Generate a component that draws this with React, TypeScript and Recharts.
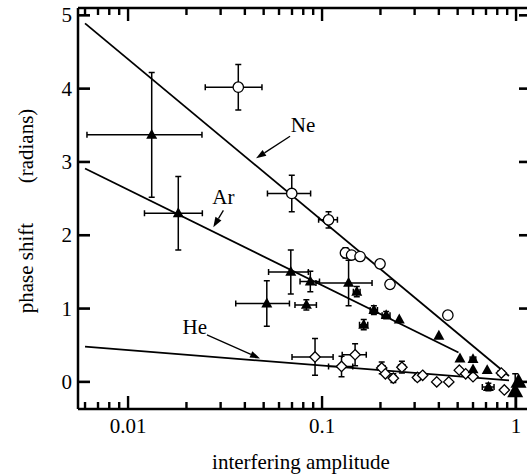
import {
  ComposedChart,
  Line,
  ReferenceDot,
  ReferenceLine,
  Scatter,
  XAxis,
  YAxis,
} from 'recharts';

const X_DOMAIN = [0.00552, 1.18];
const Y_DOMAIN = [-0.37, 5.1];
const X_MAJOR = [0.01, 0.1, 1];
const X_LABELS = ['0.01', '0.1', '1'];
const X_MINOR = [
  0.006, 0.007, 0.008, 0.009, 0.02, 0.03, 0.04, 0.05, 0.06, 0.07, 0.08, 0.09,
  0.2, 0.3, 0.4, 0.5, 0.6, 0.7, 0.8, 0.9,
];
const X_TICKS = [...X_MAJOR, ...X_MINOR];
const Y_TICKS = [0, 1, 2, 3, 4, 5];

// [amplitude, phase, x error, y error]
type Row = [number, number, number | [number, number], number];

const NE: Row[] = [
  [0.037, 4.02, 0.012, 0.31],
  [0.0698, 2.57, 0.0175, 0.25],
  [0.108, 2.21, 0.012, 0.11],
  [0.132, 1.76, 0.006, 0.07],
  [0.142, 1.73, 0, 0],
  [0.157, 1.71, 0, 0],
  [0.199, 1.61, 0, 0.05],
  [0.224, 1.33, 0, 0],
  [0.445, 0.91, 0, 0],
];

const AR: Row[] = [
  [0.01324, 3.37, [0.0071, 0.0108], 0.85],
  [0.01815, 2.3, 0.006, 0.5],
  [0.0519, 1.07, 0.016, 0.31],
  [0.069, 1.5, 0.016, 0.3],
  [0.087, 1.37, 0.01, 0.14],
  [0.083, 1.05, 0.0105, 0.07],
  [0.137, 1.35, 0.044, 0.31],
  [0.151, 1.23, 0.006, 0.07],
  [0.164, 0.78, 0.008, 0.07],
  [0.185, 0.98, 0.008, 0.06],
  [0.214, 0.91, 0.01, 0.05],
  [0.25, 0.85, 0, 0],
  [0.4, 0.63, 0, 0],
  [0.514, 0.32, 0, 0],
  [0.6, 0.31, 0.02, 0],
  [0.6, 0.17, 0, 0],
  [0.71, 0.16, 0, 0],
  [0.72, -0.07, 0.05, 0.05],
  [1.03, 0.0, 0, 0],
  [0.99, -0.13, 0, 0.24],
];
const AR_BIG = [18, 19];

const HE: Row[] = [
  [0.092, 0.34, 0.022, 0.25],
  [0.126, 0.21, 0.018, 0.14],
  [0.148, 0.37, 0.021, 0.15],
  [0.203, 0.19, 0.008, 0.08],
  [0.212, 0.11, 0, 0],
  [0.233, 0.05, 0.008, 0.06],
  [0.258, 0.2, 0.01, 0.08],
  [0.31, 0.06, 0.01, 0.04],
  [0.33, 0.09, 0, 0],
  [0.39, 0.0, 0, 0],
  [0.45, 0.0, 0, 0],
  [0.51, 0.16, 0, 0],
  [0.55, 0.11, 0, 0],
  [0.6, 0.07, 0, 0],
  [0.84, 0.12, 0.03, 0],
  [0.87, -0.11, 0, 0],
];

// fitted lines, end points
const NE_FIT = [
  { x: 0.006, y: 4.89 },
  { x: 0.92, y: 0.08 },
];
const AR_FIT = [
  { x: 0.006, y: 2.91 },
  { x: 0.505, y: 0.4 },
];
const HE_FIT = [
  { x: 0.006, y: 0.48 },
  { x: 0.92, y: 0.02 },
];

// gas labels and their arrows: [label x, label y, tail x, tail y, tip x, tip y]
const LABELS: [string, number, number, number, number, number, number][] = [
  ['Ne', 0.0798, 3.5, 0.0684, 3.35, 0.0457, 3.05],
  ['Ar', 0.031, 2.52, 0.031, 2.34, 0.0275, 2.11],
  ['He', 0.0221, 0.746, 0.0255, 0.64, 0.0479, 0.32],
];

const toPoints = (rows: Row[]) => rows.map(([x, y]) => ({ x, y }));

// error bar segments built from the rows
const toBars = (rows: Row[]) => {
  const out: { x: number; y: number }[][] = [];
  rows.forEach(([x, y, ex, ey]) => {
    const [lo, hi] = Array.isArray(ex) ? ex : [ex, ex];
    if (lo > 0 || hi > 0) out.push([{ x: x - lo, y }, { x: x + hi, y }]);
    if (ey > 0) out.push([{ x, y: y - ey }, { x, y: y + ey }]);
  });
  return out;
};
const BARS = [...toBars(HE), ...toBars(AR), ...toBars(NE)];

const FONT = 'Liberation Serif';
const INK = '#000';
const txt = { fontFamily: FONT, fontSize: 21, fill: INK };

const tickLen = (v: number) => (X_MAJOR.includes(v) ? 13 : 7);

const bottomTick = (p: any) => {
  const i = X_MAJOR.indexOf(p.payload.value);
  const len = tickLen(p.payload.value);
  return (
    <g>
      <rect x={p.x - 1.2} y={p.y - len} width={2.4} height={len} fill={INK} />
      {i >= 0 && (
        <text x={p.x} y={p.y + 24} textAnchor="middle" style={txt}>
          {X_LABELS[i]}
        </text>
      )}
    </g>
  );
};

const topTick = (p: any) => (
  <rect x={p.x - 1.2} y={p.y} width={2.4} height={tickLen(p.payload.value)} fill={INK} />
);

const leftTick = (p: any) => (
  <g>
    <rect x={p.x} y={p.y - 1.3} width={12} height={2.6} fill={INK} />
    <text x={p.x - 6} y={p.y + 7} textAnchor="end" style={txt}>
      {p.payload.value}
    </text>
  </g>
);

const rightTick = (p: any) => (
  <rect x={p.x - 11} y={p.y - 1.3} width={11} height={2.6} fill={INK} />
);

const Titles = () => (
  <g>
    <text x={301} y={469} textAnchor="middle" style={txt}>
      interfering amplitude
    </text>
    <text transform="rotate(-90)" x={-268} y={33} textAnchor="middle" style={txt}>
      phase shift
    </text>
    <text transform="rotate(-90)" x={-146} y={33} textAnchor="middle" style={txt}>
      (radians)
    </text>
  </g>
);

const circle = (p: any) => (
  <circle cx={p.cx} cy={p.cy} r={5.2} fill="#fff" stroke={INK} strokeWidth={1.3} />
);

const diamond = (p: any) => {
  const { cx, cy } = p;
  const s = 5.2;
  return (
    <polygon
      points={`${cx},${cy - s} ${cx + s},${cy} ${cx},${cy + s} ${cx - s},${cy}`}
      fill="#fff"
      stroke={INK}
      strokeWidth={1.3}
    />
  );
};

const triangle = (p: any) => {
  const { cx, cy, index } = p;
  const w = AR_BIG.includes(index) ? 16 : 11;
  const h = w * 0.9;
  return (
    <polygon
      points={`${cx},${cy - h * 0.6} ${cx + w / 2},${cy + h * 0.4} ${cx - w / 2},${cy + h * 0.4}`}
      fill={INK}
    />
  );
};

const errShape = (p: any) => {
  const { x1, y1, x2, y2 } = p;
  const c = 3;
  const horiz = Math.abs(x2 - x1) > Math.abs(y2 - y1);
  const caps = horiz
    ? `M${x1},${y1 - c}V${y1 + c}M${x2},${y2 - c}V${y2 + c}`
    : `M${x1 - c},${y1}H${x1 + c}M${x2 - c},${y2}H${x2 + c}`;
  return (
    <path d={`M${x1},${y1}L${x2},${y2}${caps}`} stroke={INK} strokeWidth={1.5} fill="none" />
  );
};

const arrow = (p: any) => {
  const { x1, y1, x2, y2 } = p;
  const a = Math.atan2(y2 - y1, x2 - x1);
  const len = 10;
  const half = 3.5;
  const bx = x2 - len * Math.cos(a);
  const by = y2 - len * Math.sin(a);
  const px = -Math.sin(a) * half;
  const py = Math.cos(a) * half;
  return (
    <g>
      <line x1={x1} y1={y1} x2={bx} y2={by} stroke={INK} strokeWidth={1.3} />
      <polygon points={`${x2},${y2} ${bx + px},${by + py} ${bx - px},${by - py}`} fill={INK} />
    </g>
  );
};

const fitLine = (data: { x: number; y: number }[], key: string) => (
  <Line
    key={key}
    xAxisId="top"
    yAxisId="right"
    data={data}
    dataKey="y"
    type="linear"
    stroke={INK}
    strokeWidth={1.8}
    dot={false}
    activeDot={false}
    isAnimationActive={false}
  />
);

export default function App() {
  return (
    <div
      style={{
        position: 'absolute',
        left: 0,
        top: 0,
        width: 527,
        height: 476,
        overflow: 'hidden',
        background: '#fff',
      }}
    >
      <ComposedChart width={545} height={476} margin={{ top: 7, right: 14, bottom: 0, left: 0 }}>
        <XAxis
          dataKey="x"
          type="number"
          scale="log"
          domain={X_DOMAIN}
          allowDataOverflow
          ticks={X_TICKS}
          interval={0}
          tick={bottomTick}
          tickLine={false}
          tickSize={0}
          tickMargin={0}
          height={67}
          axisLine={{ stroke: INK, strokeWidth: 2.5 }}
          label={<Titles />}
        />
        <XAxis
          xAxisId="top"
          orientation="top"
          dataKey="x"
          type="number"
          scale="log"
          domain={X_DOMAIN}
          allowDataOverflow
          ticks={X_TICKS}
          interval={0}
          tick={topTick}
          tickLine={false}
          tickSize={0}
          tickMargin={0}
          height={1}
          axisLine={{ stroke: INK, strokeWidth: 2.5 }}
        />
        <YAxis
          dataKey="y"
          type="number"
          domain={Y_DOMAIN}
          allowDataOverflow
          ticks={Y_TICKS}
          interval={0}
          tick={leftTick}
          tickLine={false}
          tickSize={0}
          tickMargin={0}
          width={78}
          axisLine={{ stroke: INK, strokeWidth: 2.5 }}
        />
        <YAxis
          yAxisId="right"
          orientation="right"
          dataKey="y"
          type="number"
          domain={Y_DOMAIN}
          allowDataOverflow
          ticks={Y_TICKS}
          interval={0}
          tick={rightTick}
          tickLine={false}
          tickSize={0}
          tickMargin={0}
          width={1}
          axisLine={{ stroke: INK, strokeWidth: 2.5 }}
        />

        {fitLine(NE_FIT, 'ne-fit')}
        {fitLine(AR_FIT, 'ar-fit')}
        {fitLine(HE_FIT, 'he-fit')}

        {BARS.map((seg, i) => (
          <ReferenceLine key={`err-${i}`} segment={seg} shape={errShape} ifOverflow="visible" />
        ))}

        {LABELS.map(([name, , , tx, ty, hx, hy]) => (
          <ReferenceLine
            key={`arrow-${name}`}
            segment={[
              { x: tx, y: ty },
              { x: hx, y: hy },
            ]}
            shape={arrow}
          />
        ))}
        {LABELS.map(([name, lx, ly]) => (
          <ReferenceDot
            key={`label-${name}`}
            x={lx}
            y={ly}
            shape={(p: any) => (
              <text x={p.cx} y={p.cy + 7} textAnchor="middle" style={txt}>
                {name}
              </text>
            )}
          />
        ))}

        <Scatter data={toPoints(HE)} dataKey="y" shape={diamond} isAnimationActive={false} />
        <Scatter data={toPoints(AR)} dataKey="y" shape={triangle} isAnimationActive={false} />
        <Scatter data={toPoints(NE)} dataKey="y" shape={circle} isAnimationActive={false} />
      </ComposedChart>
    </div>
  );
}
